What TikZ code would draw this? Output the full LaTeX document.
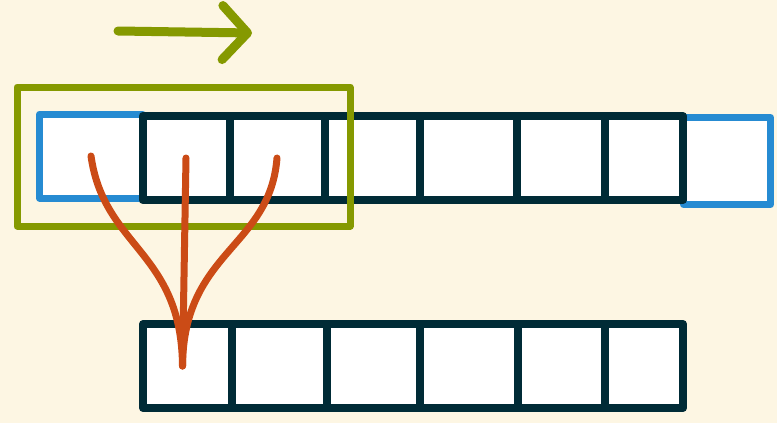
\documentclass[tikz,border=0pt]{standalone}
\usepackage{tikz}
\usetikzlibrary{arrows.meta}
\definecolor{solbase}{HTML}{FDF6E3}
\definecolor{soldark}{HTML}{002B36}
\definecolor{solblue}{HTML}{268BD2}
\definecolor{solgreen}{HTML}{859900}
\definecolor{solorange}{HTML}{CB4B16}

\begin{document}
\begin{tikzpicture}[x=1pt,y=-1pt,
    cell/.style={draw=soldark,fill=white,line width=8pt,line join=round,inner sep=0pt,minimum height=84pt},
    flow/.style={solorange,line width=7pt,line cap=round}]
  \fill[solbase] (0,0) rectangle (777,423);
  \useasboundingbox (0,0) rectangle (777,423);
  % input row, padded cells at both ends
  \node[cell,draw=solblue,line width=7pt,minimum width=103pt] (t0) at (91,156) {};
  \node[cell,draw=solblue,line width=7pt,minimum width=87pt,minimum height=87pt] (t7) at (727,161) {};
  \foreach \i/\x/\w in {1/186/87pt, 2/277/95pt, 3/372/95pt, 4/468/97pt, 5/561/88pt, 6/644/78pt} {
    \node[cell,minimum width=\w] (t\i) at (\x,158) {};
  }
  % output row
  \foreach \i/\x/\w in {1/187.5/89pt, 2/279.5/95pt, 3/373.5/93pt, 4/469/98pt, 5/561.5/87pt, 6/644/78pt} {
    \node[cell,minimum width=\w] (b\i) at (\x,366) {};
  }
  % window and its direction
  \draw[solgreen,line width=7pt,line join=round] (17,87) rectangle (350,226);
  \coordinate (dirA) at (118,31);
  \coordinate (dirB) at (252,33);
  \draw[solgreen,line width=9pt,line cap=round,-{Straight Barb[length=25pt,width=54pt,round]}] (dirA) -- (dirB);
  \coordinate (hit) at ([xshift=-5pt]b1.center);
  \draw[flow] (t0.center) .. controls +(13,92) and +(-1,-115) .. (hit);
  \draw[flow] (t1.center) -- (hit);
  \draw[flow] (t2.center) .. controls +(-7,90) and +(1,-115) .. (hit);
\end{tikzpicture}
\end{document}
